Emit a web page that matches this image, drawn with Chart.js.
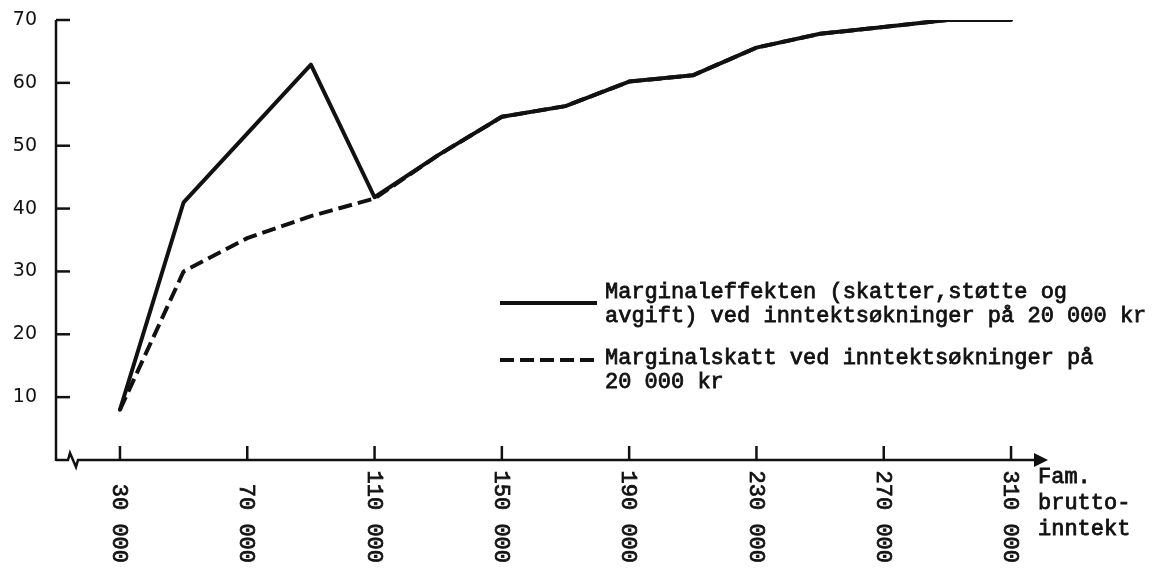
<!DOCTYPE html>
<html lang="no">
<head>
  <meta charset="UTF-8">
  <title>Marginaleffekt og marginalskatt</title>
  <script src="https://cdn.jsdelivr.net/npm/chart.js"></script>
  <style>
    html, body { margin: 0; padding: 0; background: #fff; }
    #wrap { width: 1162px; height: 571px; position: relative; }
  </style>
</head>
<body>
<div id="wrap"><canvas id="chart"></canvas></div>

<script>
// x axis: family gross income (kr)
const incomeTicks = [30000, 70000, 110000, 150000, 190000, 230000, 270000, 310000];
const incomeLabels = ['30 000', '70 000', '110 000', '150 000', '190 000', '230 000', '270 000', '310 000'];
const axisTitle = ['Fam.', 'brutto-', 'inntekt'];

// y axis: percent
const pctTicks = [10, 20, 30, 40, 50, 60, 70];

// solid line: marginal effect (tax, support, fees)
const effektIncome = [30000, 50000, 90000, 110000, 130000, 150000, 170000, 190000, 210000, 230000, 250000, 270000, 290000, 310000];
const effektValues = [8, 41, 62.9, 41.8, 48.5, 54.6, 56.3, 60.2, 61.2, 65.6, 67.8, 68.9, 70, 70];
const effektLegend = ['Marginaleffekten (skatter,støtte og', 'avgift) ved inntektsøkninger på 20 000 kr'];

// dashed line: marginal tax
const skattIncome = [30000, 50000, 70000, 90000, 110000, 130000, 150000, 170000, 190000, 210000, 230000, 250000, 270000, 290000, 310000];
const skattValues = [8, 30, 35.3, 38.8, 41.6, 48.5, 54.6, 56.3, 60.2, 61.2, 65.6, 67.8, 68.9, 70, 70];
const skattLegend = ['Marginalskatt ved inntektsøkninger på', '20 000 kr'];

const INK = '#111';
const MONO = '22px "Liberation Mono", "DejaVu Sans Mono", monospace';

function points(xs, ys) {
  return xs.map((x, i) => ({ x: x, y: ys[i] }));
}

// typewriter text: fill plus a thin stroke so it reads like inked type
function inkText(ctx, t, x, y) {
  ctx.fillText(t, x, y);
  ctx.strokeText(t, x, y);
}

// axes with inward ticks, axis break, arrow, rotated labels and legend
const drawingPlugin = {
  id: 'drawing',
  afterDraw(chart) {
    const ctx = chart.ctx;
    const xs = chart.scales.x;
    const ys = chart.scales.y;
    const left = chart.chartArea.left;
    const base = ys.getPixelForValue(0);
    const top = ys.getPixelForValue(70);

    ctx.save();
    ctx.strokeStyle = INK;
    ctx.fillStyle = INK;
    ctx.lineWidth = 2.5;
    ctx.lineCap = 'butt';

    // y axis
    ctx.beginPath();
    ctx.moveTo(left, top);
    ctx.lineTo(left, base + 1);
    ctx.stroke();
    pctTicks.forEach(v => {
      const py = ys.getPixelForValue(v);
      ctx.beginPath();
      ctx.moveTo(left, py);
      ctx.lineTo(left + 14, py);
      ctx.stroke();
    });

    // x axis with break symbol and arrow
    const end = xs.getPixelForValue(xs.max);
    ctx.beginPath();
    ctx.moveTo(left, base);
    ctx.lineTo(left + 12, base);
    ctx.lineTo(left + 14, base - 7);
    ctx.lineTo(left + 20, base + 7);
    ctx.lineTo(left + 22, base);
    ctx.lineTo(end - 2, base);
    ctx.stroke();
    ctx.beginPath();
    ctx.moveTo(end - 6, base - 7);
    ctx.lineTo(end + 8, base);
    ctx.lineTo(end - 6, base + 7);
    ctx.closePath();
    ctx.fill();

    incomeTicks.forEach(v => {
      const px = xs.getPixelForValue(v);
      ctx.beginPath();
      ctx.moveTo(px, base);
      ctx.lineTo(px, base - 14);
      ctx.stroke();
    });

    ctx.font = MONO;
    ctx.lineWidth = 0.8;
    incomeTicks.forEach((v, i) => {
      const px = xs.getPixelForValue(v);
      ctx.save();
      ctx.translate(px, 563);
      ctx.rotate(Math.PI / 2);
      ctx.textAlign = 'right';
      ctx.textBaseline = 'middle';
      inkText(ctx, incomeLabels[i], 0, 1);
      ctx.restore();
    });

    ctx.textAlign = 'left';
    ctx.textBaseline = 'alphabetic';
    axisTitle.forEach((t, i) => inkText(ctx, t, end - 2, 483 + i * 26));

    // legend
    const legend = [
      { ds: chart.data.datasets[0], lines: effektLegend, y: 303, text: 298 },
      { ds: chart.data.datasets[1], lines: skattLegend, y: 360, text: 364 }
    ];
    legend.forEach(item => {
      ctx.save();
      ctx.lineWidth = item.ds.borderWidth;
      ctx.setLineDash(item.ds.borderDash || []);
      ctx.beginPath();
      ctx.moveTo(500, item.y);
      ctx.lineTo(597, item.y);
      ctx.stroke();
      ctx.restore();
      item.lines.forEach((t, i) => inkText(ctx, t, 605, item.text + i * 24));
    });

    ctx.restore();
  }
};

new Chart(document.getElementById('chart').getContext('2d'), {
  type: 'line',
  data: {
    datasets: [
      {
        label: effektLegend.join(' '),
        data: points(effektIncome, effektValues),
        borderColor: INK,
        borderWidth: 4,
        pointRadius: 0,
        tension: 0,
        borderJoinStyle: 'round',
        borderCapStyle: 'round',
        order: 1
      },
      {
        label: skattLegend.join(' '),
        data: points(skattIncome, skattValues),
        borderColor: INK,
        borderWidth: 4,
        borderDash: [14, 6],
        pointRadius: 0,
        tension: 0,
        borderJoinStyle: 'round',
        order: 2
      }
    ]
  },
  options: {
    responsive: true,
    maintainAspectRatio: false,
    animation: false,
    layout: { padding: { top: 20, right: 122, bottom: 0, left: 0 } },
    plugins: { legend: { display: false }, tooltip: { enabled: false } },
    scales: {
      x: {
        type: 'linear',
        min: 9900,
        max: 319100,
        grid: { display: false, drawTicks: false },
        border: { display: false },
        ticks: { display: false },
        afterFit(scale) {
          scale.height = 111;
          scale.paddingLeft = 0;
          scale.paddingRight = 0;
        }
      },
      y: {
        min: 0,
        max: 70,
        grid: { display: false, drawTicks: false },
        border: { display: false },
        afterBuildTicks(scale) { scale.ticks = pctTicks.map(v => ({ value: v })); },
        afterFit(scale) {
          scale.width = 56;
          scale.paddingTop = 0;
          scale.paddingBottom = 0;
        },
        ticks: {
          color: INK,
          padding: 19,
          font: { family: '"DejaVu Sans", "Noto Sans", sans-serif', size: 19 }
        }
      }
    }
  },
  plugins: [drawingPlugin]
});
</script>
</body>
</html>
